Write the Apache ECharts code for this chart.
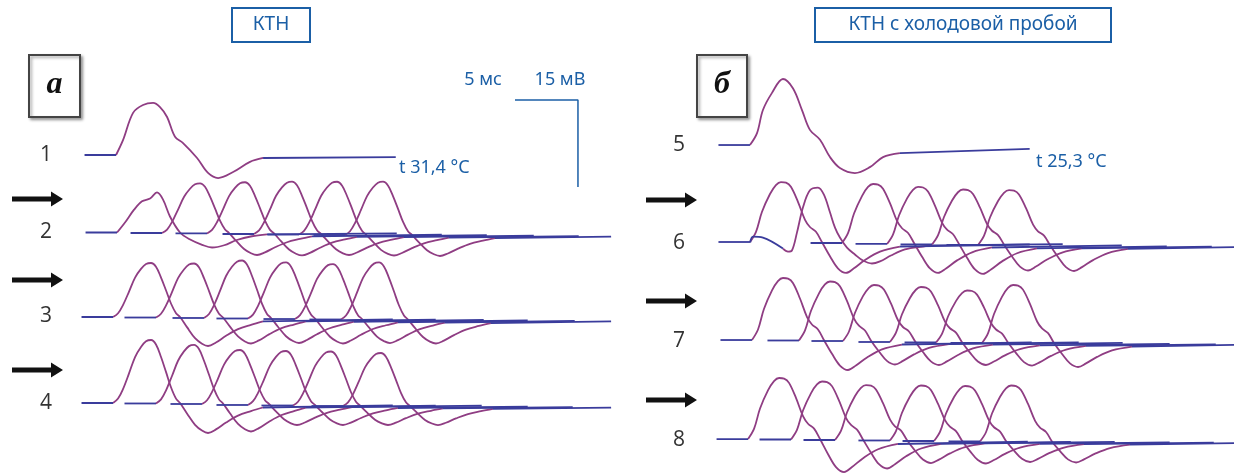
<!DOCTYPE html>
<html><head><meta charset="utf-8">
<script src="https://cdn.jsdelivr.net/npm/echarts@6/dist/echarts.min.js"></script>
<style>html,body{margin:0;padding:0;background:#fff}#c{width:1234px;height:474px}</style>
</head><body><div id="c"></div>
<script>
// ---- waveform templates (time after onset, ms; value normalised: peak = 1, trough = -1) ----
const tpl1_t = [0,0.56,1.35,2.14,2.94,3.49,4.05,4.68,5.32,6.43,7.3,8.1,9.29,10.63,11.67];
const tpl1_v = [0,0.29,0.81,0.96,1,0.92,0.73,0.35,0.23,-0.13,-0.78,-1,-0.74,-0.3,-0.13];
const tplNotch_t = [0,0.63,1.35,1.98,2.62,3.17,3.65,4.2,5.0,5.8,6.75,7.54,8.5,9.5,10.7,11.9];
const tplNotch_v = [0,0.25,0.57,0.78,0.85,1,0.82,0.4,0,-0.47,-0.82,-1,-0.85,-0.5,-0.25,-0.12];
const tplA_t = [0,0.4,0.79,1.27,1.75,2.22,2.62,3.02,3.41,3.81,4.21,4.6,5.0,5.32,5.87,6.51,7.06,7.54,8.17,8.97,9.92,10.95,11.9];
const tplA_v = [0,0.07,0.22,0.47,0.73,0.89,0.98,1,0.93,0.73,0.49,0.25,0.07,0,-0.35,-0.73,-0.92,-1,-0.88,-0.65,-0.42,-0.27,-0.15];
const tpl5_t = [0,0.56,1.03,1.75,2.62,3.41,4.13,4.76,5.56,6.35,7.14,8.33,9.52,10.56,11.9];
const tpl5_v = [0,0.18,0.53,0.79,1,0.86,0.53,0.23,0.08,-0.43,-0.82,-1,-0.79,-0.43,-0.29];
const tplB_t = [0,0.48,0.95,1.59,2.06,2.46,2.86,3.25,3.81,4.37,4.76,5.24,5.71,6.35,6.98,7.62,8.25,9.13,10.32,11.9];
const tplB_v = [0,0.17,0.5,0.8,0.95,1,0.99,0.92,0.67,0.37,0.25,0.17,0,-0.46,-0.85,-1,-0.85,-0.58,-0.31,-0.15];
const tplB2_t = [0,0.4,0.71,1.11,1.59,2.14,2.78,3.25,3.73,4.13,4.52,5.08,5.71,6.35,7.06,7.7,8.57,9.68,11.11,11.9];
const tplB2_v = [-0.29,-0.43,-0.38,0.18,0.64,0.95,1,0.87,0.55,0.27,0.09,-0.24,-0.57,-0.86,-1,-0.9,-0.62,-0.33,-0.19,-0.14];
const tailEnd = {t1:-0.09, notch:-0.06, A:-0.08, t5:-0.14, B:-0.08, B2:-0.08};
// baseline before onset (ms before onset, mV offset); trace 6-2 carries a small deflection
const leadDefault_t = [-2.5,0];
const leadDefault_v = [0,0];
const leadB2_t = [-2.6,-2.38,-1.59,0];
const leadB2_v = [0,1.03,0.86,-1.03];

// ---- per-row trace values: onset (ms), baseline (mV), peak height (mV), trough depth (mV) ----
const row1Onset = [9.21];
const row1Base  = [55.0];
const row1Peak  = [8.97];
const row1Trough= [3.97];
const row1Tpl   = ['t1'];

const row2Onset = [9.29,12.86,16.43,20.16,23.73,27.38];
const row2Base  = [41.64,41.55,41.47,41.38,41.29,41.21];
const row2Peak  = [6.90,8.57,8.83,9.02,9.10,9.19];
const row2Trough= [2.59,3.79,3.79,3.62,3.62,3.62];
const row2Tpl   = ['notch','A','A','A','A','A'];

const row3Onset = [8.97,12.38,16.19,19.68,23.41,27.06];
const row3Base  = [27.07,26.98,26.90,26.81,26.72,26.64];
const row3Peak  = [9.31,9.31,9.91,9.66,9.48,9.83];
const row3Trough= [5.0,4.48,4.31,4.31,4.14,4.14];
const row3Tpl   = ['A','A','A','A','A','A'];

const row4Onset = [8.97,12.38,16.03,19.68,23.25,27.22];
const row4Base  = [12.24,12.16,12.07,11.90,11.81,11.72];
const row4Peak  = [10.86,10.09,9.31,9.31,9.31,9.14];
const row4Trough= [5.17,4.83,3.62,3.45,3.36,3.28];
const row4Tpl   = ['A','A','A','A','A','A'];

const row5Onset = [59.52];
const row5Base  = [56.72];
const row5Peak  = [11.38];
const row5Trough= [4.83];
const row5Tpl   = ['t5'];

const row6Onset = [59.52,62.14,66.83,70.40,73.97,77.62];
const row6Base  = [40.0,39.91,39.83,39.66,39.57,39.48];
const row6Peak  = [10.34,9.48,10.17,9.83,9.48,9.48];
const row6Trough= [5.34,3.62,5.17,5.17,4.48,4.48];
const row6Tpl   = ['B','B2','B','B','B','B'];

const row7Onset = [59.68,63.41,66.90,70.63,74.29,77.94];
const row7Base  = [23.10,23.02,22.93,22.76,22.67,22.59];
const row7Peak  = [10.69,10.17,9.66,9.48,8.97,10.0];
const row7Trough= [5.17,4.14,4.14,3.97,3.97,4.14];
const row7Tpl   = ['B','B','B','B','B','B'];

const row8Onset = [59.37,62.78,66.27,70.63,74.13,77.78];
const row8Base  = [6.03,5.95,5.86,5.78,5.69,5.60];
const row8Peak  = [10.52,10.0,9.48,9.48,9.48,9.66];
const row8Trough= [5.69,5.0,3.97,3.97,3.62,3.62];
const row8Tpl   = ['B','B','B','B','B','B'];

const sweepMs = 22.2;    // sweep length after onset
const panelAEndMs = 48.5;
const panelBEndMs = 98;
const scaleBarMs = 5, scaleBarMv = 15;

// ---- drawing ----
const XMAX = 1234/12.6, YMAX = 474/5.8;
const PURPLE = '#8f3d83', BLUE = '#3a3c9c', TXTBLUE = '#1b5fa6';
const templates = {
  t1:[tpl1_t,tpl1_v], notch:[tplNotch_t,tplNotch_v], A:[tplA_t,tplA_v], t5:[tpl5_t,tpl5_v],
  B:[tplB_t,tplB_v], B2:[tplB2_t,tplB2_v]
};
const leads = {B2:[leadB2_t,leadB2_v]};
const rows = [
  [row1Onset,row1Base,row1Peak,row1Trough,row1Tpl,panelAEndMs],
  [row2Onset,row2Base,row2Peak,row2Trough,row2Tpl,panelAEndMs],
  [row3Onset,row3Base,row3Peak,row3Trough,row3Tpl,panelAEndMs],
  [row4Onset,row4Base,row4Peak,row4Trough,row4Tpl,panelAEndMs],
  [row5Onset,row5Base,row5Peak,row5Trough,row5Tpl,panelBEndMs],
  [row6Onset,row6Base,row6Peak,row6Trough,row6Tpl,panelBEndMs],
  [row7Onset,row7Base,row7Peak,row7Trough,row7Tpl,panelBEndMs],
  [row8Onset,row8Base,row8Peak,row8Trough,row8Tpl,panelBEndMs]
];
const series = [];
function lineSeries(data, color, z, width){
  return {type:'line', data:data, showSymbol:false, symbol:'none', smooth:0.35, silent:true,
    animation:false, z:z, lineStyle:{color:color, width:width||1.8}, itemStyle:{color:color}};
}
rows.forEach(function(r){
  const on=r[0], base=r[1], pk=r[2], tr=r[3], tp=r[4], endMs=r[5];
  on.forEach(function(o,i){
    const T = templates[tp[i]];
    const L = leads[tp[i]] || [leadDefault_t, leadDefault_v];
    const amp = function(v){ return base[i] + (v>=0 ? v*pk[i] : v*tr[i]); };
    const wave = T[0].map(function(t,k){ return [o+t, amp(T[1][k])]; });
    const lead = L[0].map(function(t,k){ return [o+t, base[i]+L[1][k]]; });
    const lastT = T[0][T[0].length-1];
    const endX = Math.min(o+sweepMs, endMs);
    series.push(lineSeries(wave, PURPLE, 2));
    series.push(lineSeries(lead, BLUE, 3));
    series.push(lineSeries([[o+lastT, amp(T[1][T[1].length-1])],[endX, amp(tailEnd[tp[i]])]], BLUE, 3));
  });
});
// calibration bar 5 ms x 15 mV
const barX = 40.87, barY = 64.48;
series.push({type:'line', data:[[barX,barY],[barX+scaleBarMs,barY],[barX+scaleBarMs,barY-scaleBarMv]],
  showSymbol:false, symbol:'none', silent:true, animation:false, z:4, lineStyle:{color:TXTBLUE,width:1.5}});

function arrow(x0,x1,y){
  return {type:'polygon', silent:true, z:10, shape:{points:[[x0,y-2.5],[x1-12,y-2.5],[x1-12,y-7.5],[x1,y],[x1-12,y+7.5],[x1-12,y+2.5],[x0,y+2.5]]}, style:{fill:'#111'}};
}
function txt(s,x,y,font,color,align){
  return {type:'text', silent:true, z:10, style:{text:s, x:x, y:y, font:font, fill:color, textAlign:align||'center', textVerticalAlign:'middle'}};
}
const numFont = '21px "Open Sans"';
const numColor = '#333';
const graphic = [
  {type:'rect', z:9, silent:true, shape:{x:232,y:8,width:78,height:34}, style:{fill:'#fff',stroke:TXTBLUE,lineWidth:2}},
  txt('КТН',271,25,'19px "Noto Sans"',TXTBLUE),
  {type:'rect', z:9, silent:true, shape:{x:815,y:8,width:296,height:34}, style:{fill:'#fff',stroke:TXTBLUE,lineWidth:2}},
  txt('КТН с холодовой пробой',963,25,'19px "Noto Sans"',TXTBLUE),
  {type:'rect', z:9, silent:true, shape:{x:29,y:55,width:51,height:62}, style:{fill:'#fff',stroke:'#444',lineWidth:2,shadowBlur:3,shadowOffsetX:2,shadowOffsetY:2,shadowColor:'rgba(0,0,0,0.35)'}},
  txt('a',54.5,85,'bold italic 32px "Liberation Serif"','#111'),
  {type:'rect', z:9, silent:true, shape:{x:697,y:55,width:50,height:62}, style:{fill:'#fff',stroke:'#444',lineWidth:2,shadowBlur:3,shadowOffsetX:2,shadowOffsetY:2,shadowColor:'rgba(0,0,0,0.35)'}},
  txt('б',722,85,'bold italic 32px "Liberation Serif"','#111'),
  txt('1',46,155,numFont,numColor), txt('2',46,232,numFont,numColor),
  txt('3',46,316,numFont,numColor), txt('4',46,403,numFont,numColor),
  txt('5',679,145,numFont,numColor), txt('6',679,243,numFont,numColor),
  txt('7',679,341,numFont,numColor), txt('8',679,440,numFont,numColor),
  arrow(12,63,199), arrow(12,63,280), arrow(12,63,370),
  arrow(646,697,200), arrow(646,697,301), arrow(646,697,400),
  txt('5 мс',483,80,'18px "Noto Sans"',TXTBLUE),
  txt('15 мВ',560,80,'18px "Noto Sans"',TXTBLUE),
  txt('t 31,4 °C',399,168,'18px "Noto Sans"',TXTBLUE,'left'),
  txt('t 25,3 °C',1036,162,'18px "Noto Sans"',TXTBLUE,'left')
];
const chart = echarts.init(document.getElementById('c'), null, {renderer:'canvas'});
chart.setOption({
  animation:false,
  backgroundColor:'#fff',
  grid:{left:0,right:0,top:0,bottom:0},
  xAxis:{type:'value',min:0,max:XMAX,show:false},
  yAxis:{type:'value',min:0,max:YMAX,show:false},
  series:series,
  graphic:graphic
});
</script></body></html>
